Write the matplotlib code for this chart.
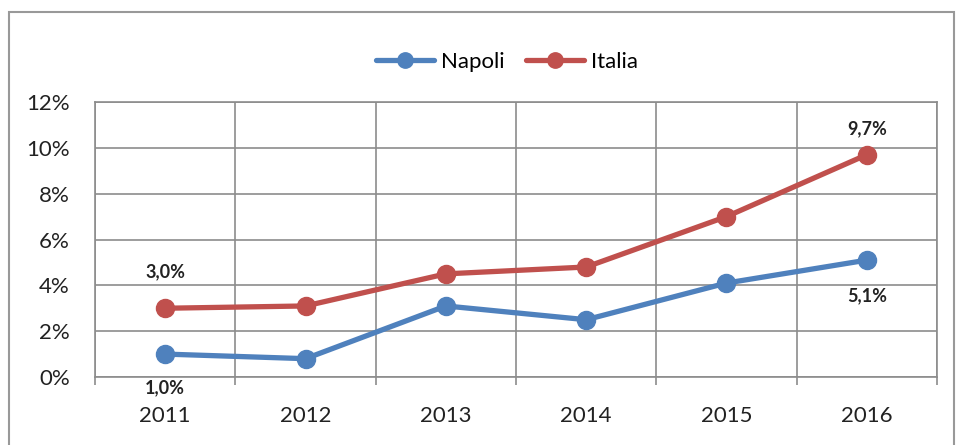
import matplotlib.pyplot as plt
from matplotlib.patches import Rectangle
from matplotlib.ticker import FuncFormatter, FixedLocator

plt.rcParams['font.family'] = ['Lato', 'DejaVu Sans']

# Data
years = ["2011", "2012", "2013", "2014", "2015", "2016"]
napoli = [1.0, 0.8, 3.1, 2.5, 4.1, 5.1]
italia = [3.0, 3.1, 4.5, 4.8, 7.0, 9.7]

blue = "#4F81BD"
red = "#C0504D"
grid_col = "#8C8C8C"

fig = plt.figure(figsize=(9.59, 4.45), dpi=100)
ax = fig.add_axes([95 / 959, 1 - 377 / 445, (937 - 95) / 959, (377 - 102) / 445])

x = list(range(len(years)))
ax.plot(x, napoli, color=blue, lw=3.8, marker="o", ms=13, label="Napoli",
        solid_capstyle="round", zorder=3)
ax.plot(x, italia, color=red, lw=3.8, marker="o", ms=13, label="Italia",
        solid_capstyle="round", zorder=3)

ax.set_xlim(-0.5, len(years) - 0.5)
ax.set_ylim(0, 12)
ax.set_yticks([0, 2, 4, 6, 8, 10, 12])
ax.yaxis.set_major_formatter(FuncFormatter(lambda v, p: f"{int(v)}%"))

ax.set_xticks(x)
ax.set_xticklabels(years)
ax.xaxis.set_minor_locator(FixedLocator([i - 0.5 for i in range(len(years) + 1)]))

ax.grid(axis="y", which="major", color=grid_col, lw=1.2)
ax.grid(axis="x", which="minor", color=grid_col, lw=1.2)
ax.set_axisbelow(True)

for s in ax.spines.values():
    s.set_color(grid_col)
    s.set_linewidth(1.2)

ax.tick_params(axis="x", which="major", length=0, pad=21, labelsize=16, labelcolor="#222222")
ax.tick_params(axis="x", which="minor", length=6, width=1.2, color=grid_col, direction="out")
ax.tick_params(axis="y", length=0, pad=18, labelsize=16, labelcolor="#222222")

# data labels on first and last points
lab = dict(ha="center", va="center", fontsize=13, fontweight="bold", color="#222222",
           textcoords="offset points")
def fmt(v):
    return f"{v:.1f}%".replace(".", ",")
ax.annotate(fmt(italia[0]), (0, italia[0]), xytext=(0, 26), **lab)
ax.annotate(fmt(napoli[0]), (0, napoli[0]), xytext=(0, -24), **lab)
ax.annotate(fmt(italia[-1]), (5, italia[-1]), xytext=(0, 19), **lab)
ax.annotate(fmt(napoli[-1]), (5, napoli[-1]), xytext=(0, -26), **lab)

fig.legend(loc="center", bbox_to_anchor=(507 / 959, 1 - 62 / 445), ncol=2, frameon=False,
           fontsize=16, handlelength=2.6, columnspacing=1.0, handletextpad=0.3, markerscale=0.85)

fig.patches.append(Rectangle((8.5 / 959, -0.05), (954 - 8.5) / 959, 1 - 12.5 / 445 + 0.05,
                             transform=fig.transFigure, fill=False, edgecolor="#999999", lw=1.5))

fig.savefig("out.png", dpi=100)
